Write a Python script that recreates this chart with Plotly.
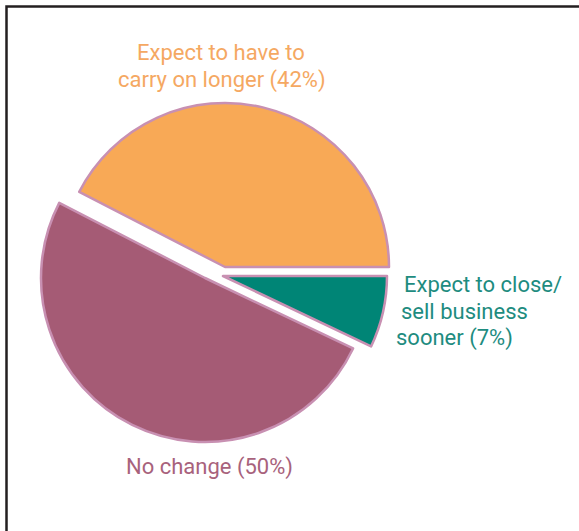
import plotly.graph_objects as go

# Survey answers and their shares (%)
categories = ["Expect to have to carry on longer", "No change", "Expect to close/ sell business sooner"]
values = [42, 50, 7]
colors = ["#F8A956", "#A55B75", "#008576"]
label_colors = ["#F5A862", "#A8627C", "#1E8C7F"]

W, H = 579, 531
R = 164  # slice radius in px
# centre of each exploded slice (px from top-left)
centres = [(225, 267), (205, 278), (223, 276)]

EDGE = "#C890B2"

# first slice starts at 3 o'clock and runs counterclockwise
# (plotly puts the clockwise edge of the first slice at `rotation`)
rotation = 90 - 360 * values[0] / sum(values)


def px_domain(cx, cy, r):
    return dict(x=[(cx - r) / W, (cx + r) / W], y=[1 - (cy + r) / H, 1 - (cy - r) / H])


fig = go.Figure()
for i, (cx, cy) in enumerate(centres):
    fills = [c if j == i else "rgba(0,0,0,0)" for j, c in enumerate(colors)]
    edges = [EDGE if j == i else "rgba(0,0,0,0)" for j in range(len(colors))]
    fig.add_trace(go.Pie(
        labels=categories,
        values=values,
        sort=False,
        direction="counterclockwise",
        rotation=rotation,
        textinfo="none",
        hoverinfo="skip",
        showlegend=False,
        marker=dict(colors=fills, line=dict(color=edges, width=2.5)),
        domain=px_domain(cx, cy, R),
    ))

font_family = "Roboto, 'Open Sans', sans-serif"


def add_label(text, x, y, color, anchor="center"):
    fig.add_annotation(
        text=text, x=x / W, y=1 - y / H, xref="paper", yref="paper",
        xanchor=anchor, yanchor="middle", showarrow=False,
        font=dict(family=font_family, size=22, color=color),
    )


# Orange slice label
add_label("Expect to have to", 221, 52, label_colors[0])
add_label(f"carry on longer ({values[0]}%)", 222, 80, label_colors[0])
# Purple slice label
add_label(f"No change ({values[1]}%)", 209, 467, label_colors[1])
# Teal slice label
add_label("Expect to close/", 402, 284, label_colors[2], "left")
add_label("sell business", 399, 311, label_colors[2], "left")
add_label(f"sooner ({values[2]}%)", 394, 338, label_colors[2], "left")

# Frame around the panel
fig.add_shape(type="rect", xref="paper", yref="paper",
              x0=6.5 / W, x1=1.2, y0=-0.2, y1=1 - 6.5 / H,
              line=dict(color="#231F20", width=2.5), fillcolor="rgba(0,0,0,0)")

fig.update_layout(
    width=W, height=H, autosize=False,
    margin=dict(l=0, r=0, t=0, b=0),
    paper_bgcolor="white", plot_bgcolor="white",
)

fig.write_html("out.html")
